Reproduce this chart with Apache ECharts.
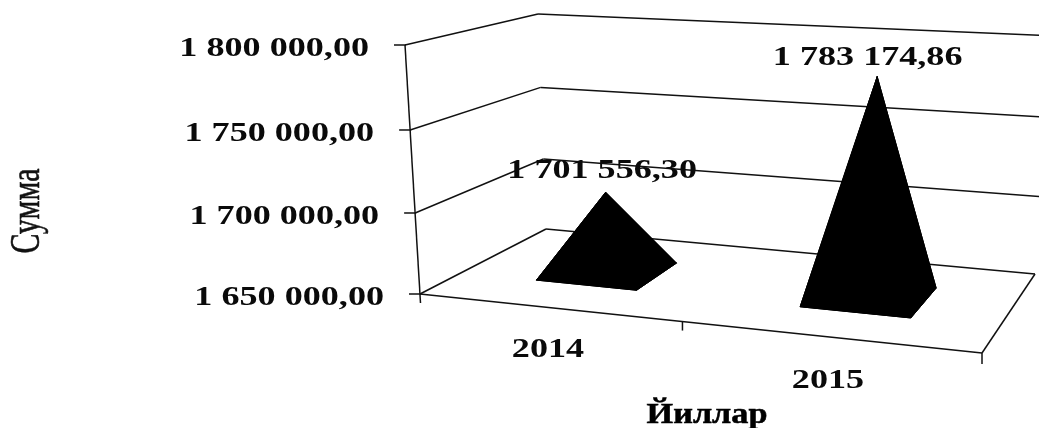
<!DOCTYPE html>
<html>
<head>
<meta charset="utf-8">
<style>html,body{margin:0;padding:0;background:#fff}#c{width:1039px;height:428px}</style>
<script src="https://cdn.jsdelivr.net/npm/echarts@6/dist/echarts.min.js"></script>
</head>
<body>
<div id="c"></div>
<script>
// ---- data ----
var years = ['2014', '2015'];
var sums = [1701556.30, 1783174.86];
var sumLabels = ['1 701 556,30', '1 783 174,86'];
var axisTicks = [1650000, 1700000, 1750000, 1800000];
var axisTickLabels = ['1 650 000,00', '1 700 000,00', '1 750 000,00', '1 800 000,00'];
var xTitle = 'Йиллар';
var yTitle = 'Сумма';

// ---- camera: where the corners of the chart box land on the page ----
var FLOOR = { fl: [420, 294], fr: [982, 353], br: [1035, 274], bl: [546, 229] };
var ROOF  = { fl: [405, 45],  fr: [995, 75],  br: [1055, 36],  bl: [538, 14] };
var FONT = '"Liberation Serif", serif';
var STRETCH = 1.29;
var SUM_LABEL_OFFSET = [[-3.5, -21.5], [-9.5, -19]];
var YEAR_LABEL_OFFSET = [[-2, 42], [-3, 44]];

function mix(a, b, t) { return [a[0] + (b[0] - a[0]) * t, a[1] + (b[1] - a[1]) * t]; }
function plane(p, u, d) { return mix(mix(p.fl, p.fr, u), mix(p.bl, p.br, u), d); }
function project(u, d, h) {
  var uw = u - 0.1 * u * (1 - u);
  var hw = h - 0.036 * h * (1 - h);
  return mix(plane(FLOOR, uw, d), plane(ROOF, uw, d), hw);
}
// grid position (from the library's scales) -> unit box coordinates
function unit(params, api, cat, val) {
  var r = params.coordSys, p = api.coord([cat, val]);
  return { u: (p[0] - r.x) / r.width, h: 1 - (p[1] - r.y) / r.height };
}
function line(a, b, w) {
  return { type: 'line', shape: { x1: a[0], y1: a[1], x2: b[0], y2: b[1] },
           style: { stroke: '#111', lineWidth: w || 1.5 } };
}
function label(text, x, y, align) {
  return { type: 'text', x: x, y: y, scaleX: STRETCH,
           style: { text: text, font: 'bold 28px ' + FONT, fill: '#0a0a0a',
                    textAlign: align, textVerticalAlign: 'middle' } };
}

function renderFrame(params, api) {
  var h = unit(params, api, 0, api.value(0)).h;
  var kids = [];
  var a = project(0, 0, h), b = project(0, 1, h), c = project(1, 1, h);
  kids.push(line(a, b), line(b, c));
  kids.push(line([a[0] - 11, a[1]], [a[0] + 1, a[1]]));
  kids.push(label(axisTickLabels[params.dataIndex], a[0] - 36, a[1] + 3.5, 'right'));
  if (params.dataIndex === 0) {
    var fr = project(1, 0, 0), br = project(1, 1, 0);
    kids.push(line(a, fr), line(fr, br));
    var top = project(0, 0, 1);
    kids.push(line([top[0], top[1]], [a[0] + 0.5, a[1] + 9]));
    var mid = (unit(params, api, 0, axisTicks[0]).u + unit(params, api, 1, axisTicks[0]).u) / 2 - 0.008;
    [mid, 1].forEach(function (u) {
      var p = project(u, 0, 0);
      kids.push(line(p, [p[0], p[1] + (u === 1 ? 11 : 9)]));
    });
  }
  return { type: 'group', children: kids };
}

function renderPyramid(params, api) {
  var i = api.value(0), top = unit(params, api, i, api.value(1));
  var hw = 0.098, d0 = 0.33, d1 = 0.72, dm = (d0 + d1) / 2;
  var apex = project(top.u, dm, top.h);
  var base = [project(top.u - hw, d0, 0), project(top.u + hw, d0, 0),
              project(top.u + hw, d1, 0), project(top.u - hw, d1, 0)];
  var kids = [{ type: 'polygon', shape: { points: base }, style: { fill: '#000', stroke: '#000' } }];
  base.forEach(function (p, k) {
    kids.push({ type: 'polygon', shape: { points: [p, base[(k + 1) % 4], apex] },
                style: { fill: '#000', stroke: '#000' } });
  });
  var front = project(top.u, 0, 0);
  kids.push(label(sumLabels[i], apex[0] + SUM_LABEL_OFFSET[i][0], apex[1] + SUM_LABEL_OFFSET[i][1], 'center'));
  kids.push(label(years[i], front[0] + YEAR_LABEL_OFFSET[i][0], front[1] + YEAR_LABEL_OFFSET[i][1], 'center'));
  return { type: 'group', children: kids };
}

var chart = echarts.init(document.getElementById('c'), null, { renderer: 'canvas' });
chart.setOption({
  animation: false,
  backgroundColor: '#ffffff',
  grid: { left: 0, right: 0, top: 0, bottom: 0 },
  xAxis: { type: 'category', data: years, show: false },
  yAxis: { type: 'value', min: axisTicks[0], max: axisTicks[axisTicks.length - 1], interval: 50000, show: false },
  graphic: [
    { type: 'text', x: 28, y: 211, rotation: Math.PI / 2, scaleY: 1.4, z: 10,
      style: { text: yTitle, font: '30px ' + FONT, fill: '#111', stroke: '#111', lineWidth: 0.4,
               textAlign: 'center', textVerticalAlign: 'middle' } },
    { type: 'text', x: 707, y: 416, scaleX: 1.18, z: 10,
      style: { text: xTitle, font: 'bold 29px ' + FONT, fill: '#000', stroke: '#000', lineWidth: 0.5,
               textAlign: 'center', textVerticalAlign: 'middle' } }
  ],
  series: [
    { type: 'custom', name: 'frame', renderItem: renderFrame, data: axisTicks.map(function (v) { return [v]; }),
      encode: { y: 0 }, silent: true, z: 1 },
    { type: 'custom', name: 'Сумма', renderItem: renderPyramid,
      data: sums.map(function (v, i) { return [i, v]; }), encode: { x: 0, y: 1 }, silent: true, z: 2 }
  ]
});
</script>
</body>
</html>
